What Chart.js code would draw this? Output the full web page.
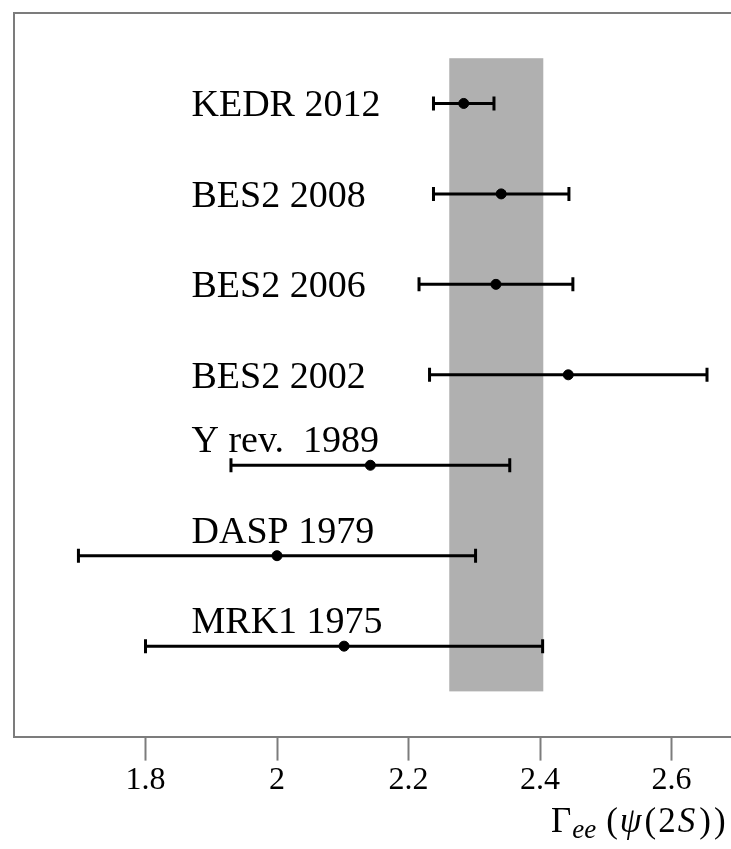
<!DOCTYPE html>
<html>
<head>
<meta charset="utf-8">
<script src="https://cdn.jsdelivr.net/npm/chart.js@4/dist/chart.umd.min.js"></script>
<style>
  html, body { margin: 0; padding: 0; background: #fff; overflow: hidden; }
  #wrap { width: 731px; height: 849px; overflow: hidden; position: relative; }
  #box { width: 809px; height: 849px; position: absolute; left: 0; top: 0; }
</style>
</head>
<body>
<div id="wrap"><div id="box"><canvas id="c"></canvas></div></div>
<script>
// ---- data ----
const categories = ['KEDR 2012', 'BES2 2008', 'BES2 2006', 'BES2 2002', 'Υ rev.  1989', 'DASP 1979', 'MRK1 1975'];
const rows = [7, 6, 5, 4, 3, 2, 1];
const values = [2.284, 2.341, 2.333, 2.443, 2.142, 2.000, 2.102];
const errors = [0.046, 0.103, 0.117, 0.211, 0.212, 0.302, 0.302];
const xTicks = [1.8, 2.0, 2.2, 2.4, 2.6];
const bandRange = [2.262, 2.405];

const serif = '"Liberation Serif", "DejaVu Serif", serif';
const frameColor = '#7c7c7c';

const decorPlugin = {
  id: 'decor',
  beforeDatasetsDraw(chart) {
    const ctx = chart.ctx;
    const xs = chart.scales.x, ys = chart.scales.y;
    // average band
    const yTop = ys.getPixelForValue(Math.max(...rows) + 0.5);
    const yBot = ys.getPixelForValue(Math.min(...rows) - 0.5);
    const x0 = xs.getPixelForValue(bandRange[0]);
    const x1 = xs.getPixelForValue(bandRange[1]);
    ctx.save();
    ctx.fillStyle = '#b0b0b0';
    ctx.fillRect(x0, yTop, x1 - x0, yBot - yTop);
    // error bars
    ctx.strokeStyle = '#000';
    ctx.lineWidth = 3;
    values.forEach((v, i) => {
      const y = ys.getPixelForValue(rows[i]);
      const a = xs.getPixelForValue(v - errors[i]);
      const b = xs.getPixelForValue(v + errors[i]);
      ctx.beginPath();
      ctx.moveTo(a, y); ctx.lineTo(b, y);
      ctx.moveTo(a, y - 7); ctx.lineTo(a, y + 7);
      ctx.moveTo(b, y - 7); ctx.lineTo(b, y + 7);
      ctx.stroke();
    });
    ctx.restore();
  },
  afterDraw(chart) {
    const ctx = chart.ctx;
    const xs = chart.scales.x, ys = chart.scales.y;
    const area = chart.chartArea;
    ctx.save();
    // frame: left and top
    ctx.strokeStyle = frameColor;
    ctx.lineWidth = 2;
    ctx.beginPath();
    ctx.moveTo(area.left, area.bottom);
    ctx.lineTo(area.left, area.top);
    ctx.lineTo(area.right + 10, area.top);
    ctx.stroke();
    // labels
    ctx.fillStyle = '#000';
    ctx.font = '38px ' + serif;
    ctx.textAlign = 'left';
    ctx.textBaseline = 'alphabetic';
    const lx = xs.getPixelForValue(1.87);
    categories.forEach((c, i) => {
      const y = ys.getPixelForValue(rows[i]);
      const below = i >= 4;
      ctx.fillText(c, lx, below ? y - 13 : y + 13);
    });
    // axis title  Γ_ee (ψ(2S))
    let x = 551, base = 832;
    const put = (t, f, dy, gap) => { ctx.font = f; ctx.fillText(t, x, base + (dy || 0)); x += ctx.measureText(t).width + (gap || 0); };
    put('Γ', '35px ' + serif, 0, 1);
    put('ee', 'italic 27px ' + serif, 6, 10);
    put('(', '35px ' + serif, 0, 2);
    put('ψ', 'italic 35px ' + serif, 0, 3);
    put('(', '35px ' + serif, 0, 2);
    put('2', '35px ' + serif, 0, 2);
    put('S', 'italic 35px ' + serif, 0, 4);
    put(')', '35px ' + serif, 0, 3);
    put(')', '35px ' + serif, 0, 0);
    ctx.restore();
  }
};

new Chart(document.getElementById('c'), {
  type: 'scatter',
  data: {
    datasets: [{
      data: values.map((v, i) => ({ x: v, y: rows[i] })),
      backgroundColor: '#000',
      borderColor: '#000',
      pointRadius: 5,
      pointHoverRadius: 5
    }]
  },
  options: {
    responsive: true,
    maintainAspectRatio: false,
    animation: false,
    events: [],
    layout: { padding: { left: 14, top: 13, right: 0, bottom: 48 } },
    plugins: { legend: { display: false }, tooltip: { enabled: false } },
    scales: {
      x: {
        type: 'linear',
        min: 1.6,
        max: 2.8,
        afterBuildTicks: (s) => { s.ticks = xTicks.map(v => ({ value: v })); },
        ticks: {
          color: '#000',
          font: { family: serif, size: 32 },
          padding: 1,
          maxRotation: 0,
          autoSkip: false,
          callback: (v) => String(Number(Number(v).toFixed(1)))
        },
        grid: { drawOnChartArea: false, tickLength: 24, tickColor: frameColor, tickWidth: 2 },
        border: { color: frameColor, width: 2 }
      },
      y: {
        type: 'linear',
        min: 0,
        max: 8,
        display: false
      }
    }
  },
  plugins: [decorPlugin]
});
</script>
</body>
</html>
